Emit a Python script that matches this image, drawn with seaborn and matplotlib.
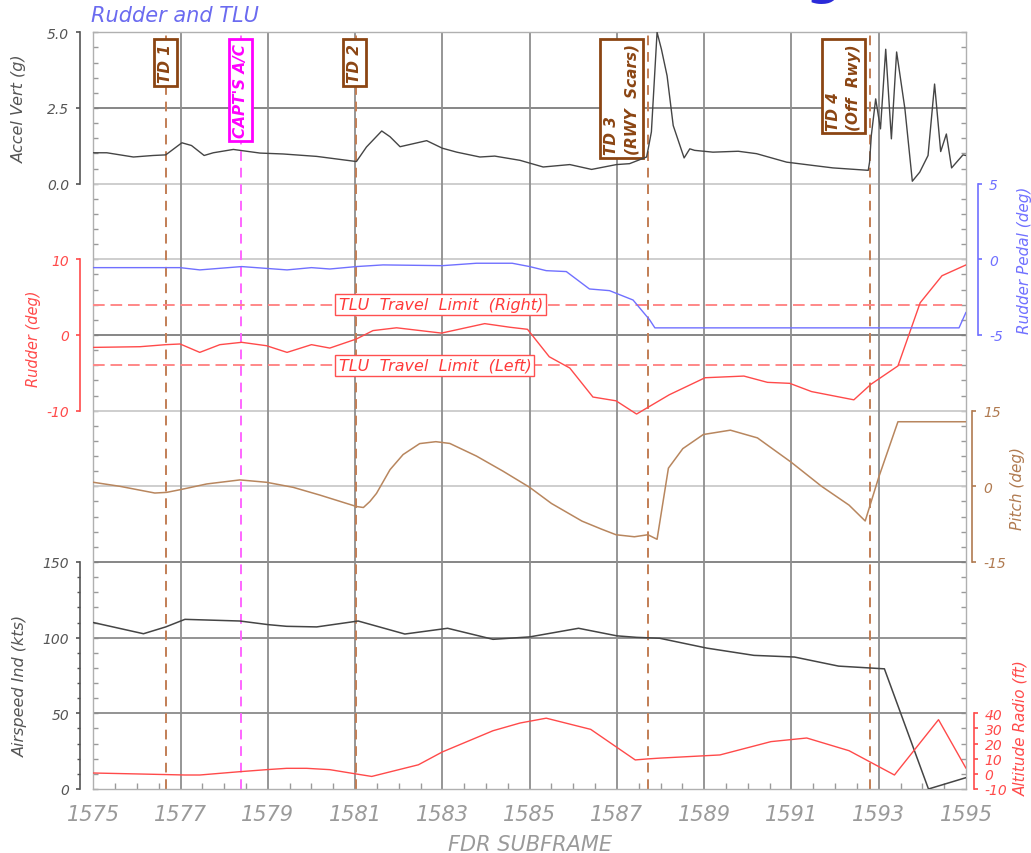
import matplotlib
matplotlib.use("Agg")
import matplotlib.pyplot as plt
from matplotlib.ticker import FormatStrFormatter, MultipleLocator, FixedLocator
import seaborn as sns

# ---------------- data ----------------
accel_x = [1575.0, 1575.31, 1575.92, 1576.37, 1576.66, 1577.03, 1577.25, 1577.54, 1577.75, 1578.21,
           1578.36, 1578.82, 1579.35, 1580.12, 1581.03, 1581.26, 1581.61, 1581.8, 1582.03, 1582.64,
           1583.0, 1583.33, 1583.86, 1584.2, 1584.78, 1585.31, 1585.92, 1586.42, 1586.99, 1587.29,
           1587.68, 1587.71, 1587.79, 1587.92, 1588.02, 1588.15, 1588.29, 1588.54, 1588.67, 1588.78,
           1589.2, 1589.78, 1590.2, 1590.89, 1591.5, 1591.95, 1592.76, 1592.79, 1592.83, 1592.93,
           1593.04, 1593.16, 1593.29, 1593.41, 1593.6, 1593.77, 1593.94, 1594.13, 1594.28, 1594.42,
           1594.55, 1594.67, 1594.93, 1595.0]
accel_g = [1.02, 1.02, 0.88, 0.93, 0.95, 1.35, 1.26, 0.93, 1.02, 1.13,
           1.10, 1.01, 0.98, 0.90, 0.73, 1.21, 1.74, 1.55, 1.22, 1.42,
           1.17, 1.04, 0.88, 0.91, 0.77, 0.55, 0.63, 0.47, 0.63, 0.66,
           0.88, 1.10, 1.71, 5.0, 4.44, 3.56, 1.92, 0.85, 1.15, 1.10,
           1.04, 1.07, 0.99, 0.71, 0.60, 0.52, 0.44, 0.71, 1.59, 2.80,
           1.81, 4.44, 1.48, 4.35, 2.47, 0.08, 0.38, 0.93, 3.29, 1.06,
           1.64, 0.52, 0.95, 0.93]

rudder_x = [1575.0, 1576.07, 1576.66, 1576.99, 1577.44, 1577.9, 1578.4, 1578.97, 1579.44, 1580.0,
            1580.42, 1581.03, 1581.41, 1581.95, 1582.98, 1583.97, 1584.55, 1584.95, 1585.45, 1585.92,
            1586.45, 1586.98, 1587.45, 1588.2, 1589.02, 1589.91, 1590.45, 1590.96, 1591.46, 1592.43,
            1592.82, 1593.44, 1593.95, 1594.45, 1595.0]
rudder_deg = [-1.64, -1.55, -1.28, -1.19, -2.3, -1.28, -0.97, -1.42, -2.3, -1.28,
              -1.73, -0.53, 0.58, 0.95, 0.25, 1.5, 1.02, 0.75, -2.88, -4.37,
              -8.2, -8.7, -10.45, -7.9, -5.65, -5.43, -6.26, -6.39, -7.48, -8.57,
              -6.52, -4.09, 4.26, 7.83, 9.26]

pedal_x = [1575.0, 1576.99, 1577.44, 1578.4, 1579.44, 1580.0, 1580.42, 1581.03, 1581.64, 1583.0,
           1583.78, 1584.6, 1585.0, 1585.38, 1585.84, 1586.37, 1586.83, 1587.37, 1587.75, 1587.87,
           1594.84, 1595.0]
pedal_deg = [-0.55, -0.55, -0.70, -0.48, -0.70, -0.55, -0.64, -0.48, -0.37, -0.42,
             -0.26, -0.26, -0.48, -0.75, -0.81, -1.96, -2.07, -2.69, -4.0, -4.53,
             -4.53, -3.5]

pitch_x = [1575.0, 1575.61, 1576.41, 1576.68, 1576.99, 1577.6, 1578.36, 1578.97, 1579.58, 1580.19,
           1581.03, 1581.19, 1581.34, 1581.49, 1581.8, 1582.1, 1582.48, 1582.85, 1583.17, 1583.78,
           1584.39, 1585.0, 1585.5, 1586.2, 1586.65, 1586.98, 1587.4, 1587.71, 1587.92, 1588.18,
           1588.51, 1588.98, 1589.6, 1590.22, 1590.99, 1591.69, 1592.32, 1592.69, 1593.0, 1593.44,
           1595.0]
pitch_deg = [0.8, 0.0, -1.33, -1.2, -0.67, 0.47, 1.27, 0.8, -0.2, -1.73,
             -4.0, -4.2, -3.0, -1.4, 3.3, 6.3, 8.47, 8.85, 8.5, 6.0,
             3.0, -0.2, -3.4, -6.9, -8.5, -9.6, -10.0, -9.6, -10.5, 3.6,
             7.47, 10.27, 11.13, 9.6, 4.8, 0.0, -3.73, -6.87, 1.8, 12.8,
             12.8]

airspeed_x = [1575.0, 1576.15, 1576.66, 1577.1, 1578.36, 1579.01, 1579.43, 1580.12, 1581.07, 1582.14,
              1583.12, 1584.16, 1585.0, 1586.12, 1587.0, 1587.45, 1587.98, 1589.06, 1590.14, 1591.07,
              1592.08, 1593.13, 1594.14, 1595.0]
airspeed_kts = [110, 102.6, 107.1, 112.1, 111, 108.6, 107.5, 107.1, 111, 102.4,
                106.2, 98.9, 100.5, 106.2, 101.2, 100.2, 99.6, 93.1, 88.3, 87.2,
                81.2, 79.4, 0.0, 7.5]

altitude_x = [1575.0, 1576.07, 1577.1, 1577.44, 1578.36, 1578.97, 1579.43, 1579.89, 1580.42, 1581.03,
              1581.38, 1582.45, 1583.0, 1584.16, 1584.78, 1585.38, 1586.4, 1586.99, 1587.42, 1587.71,
              1587.98, 1589.36, 1590.53, 1591.35, 1592.32, 1593.36, 1594.37, 1595.0]
altitude_ft = [0.57, -0.09, -0.75, -0.75, 1.45, 2.78, 3.66, 3.66, 2.78, -0.09,
               -1.7, 6.0, 14.5, 28.5, 33.6, 36.8, 29.4, 17.7, 9.2, 9.9,
               10.4, 12.5, 21.3, 23.7, 15.3, -0.75, 35.8, 3.7]

tlu_limits = [4.0, -4.0]
tlu_labels = ["TLU  Travel  Limit  (Right)", "TLU  Travel  Limit  (Left)"]

event_x = [1576.66, 1578.38, 1581.02, 1587.71, 1592.79]
event_labels = ["TD 1", "CAPT'S A/C", "TD 2", "TD 3\n(RWY  Scars)", "TD 4\n(Off  Rwy)"]

x_ticks = [1575, 1577, 1579, 1581, 1583, 1585, 1587, 1589, 1591, 1593, 1595]
x_ticklabels = ["1575", "1577", "1579", "1581", "1583", "1585", "1587", "1589", "1591", "1593", "1595"]

accel_ticks = [0.0, 2.5, 5.0]
rudder_ticks = [-10, 0, 10]
pedal_ticks = [-5, 0, 5]
pitch_ticks = [-15, 0, 15]
airspeed_ticks = [0, 50, 100, 150]
altitude_ticks = [-10, 0, 10, 20, 30, 40]

# ---------------- styling ----------------
sns.set_style("white")
plt.rcParams["font.family"] = ["DejaVu Sans"]
plt.rcParams["font.style"] = "italic"
plt.rcParams["axes.unicode_minus"] = False

W, H = 1031, 854
fig = plt.figure(figsize=(W / 100, H / 100), dpi=100)
L, R, T, B = 93.3, 966.0, 33.3, 790.0
ax = fig.add_axes([L / W, 1 - B / H, (R - L) / W, (B - T) / H])
ax.set_xlim(1575, 1595)
ax.set_ylim(0, 10)
for s in ax.spines.values():
    s.set_color("#b0b0b0")
    s.set_linewidth(1.0)

DARK = "#7d7d7d"
LIGHT = "#cacaca"
band_lines = [(9, DARK), (8, LIGHT), (7, LIGHT), (6, DARK), (5, LIGHT),
              (4, LIGHT), (3, DARK), (2, "#8a8a8a"), (1, "#8a8a8a")]
for b, c in band_lines:
    ax.axhline(b, color=c, lw=1.3, zorder=1)
for xv in x_ticks[1:-1]:
    ax.axvline(xv, color="#8e8e8e", lw=1.3, zorder=1)

RED = "#ff4a4a"
BLUE = "#7070ff"
BROWN_LINE = "#b8865e"
TD_LINE = "#c27e55"
TD_TEXT = "#8b4513"
MAG = "#ff00ff"
GREY = "#454545"


def make_twin(side, ylim, bounds, ticks, color, offset, fmt=None, minor=None):
    t = ax.twinx()
    t.set_ylim(*ylim)
    for s in t.spines.values():
        s.set_visible(False)
    sp = t.spines[side]
    sp.set_visible(True)
    sp.set_position(("outward", offset))
    sp.set_bounds(*bounds)
    sp.set_color(color)
    sp.set_linewidth(1.2)
    t.yaxis.set_ticks_position(side)
    t.yaxis.set_label_position(side)
    t.set_yticks(ticks)
    if fmt:
        t.yaxis.set_major_formatter(FormatStrFormatter(fmt))
    if minor is not None:
        t.yaxis.set_minor_locator(FixedLocator(minor))
        t.tick_params(axis="y", which="minor", direction="out", length=2.5, width=1, color=color)
    else:
        t.yaxis.set_minor_locator(FixedLocator([]))
    t.tick_params(axis="y", which="major", direction="out", length=3, width=1.2,
                  color=color, labelcolor=color, labelsize=10, pad=5)
    return t


t_acc = make_twin("left", (-20, 5), (0, 5), accel_ticks, "#555555", 9.5, fmt="%.1f")
t_rud = make_twin("left", (-60, 40), (-10, 10), rudder_ticks, RED, 9.5)
t_ped = make_twin("right", (-35, 15), (-5, 5), pedal_ticks, BLUE, 8.5)
t_pit = make_twin("right", (-60, 90), (-15, 15), pitch_ticks, "#b07a50", 4.5)
t_air = make_twin("left", (0, 500), (0, 150), airspeed_ticks, "#555555", 9.5,
                  minor=[v for v in range(10, 150, 10) if v % 50])
t_alt = make_twin("right", (-10, 490), (-10, 40), altitude_ticks, RED, 5.5)

# traces
sns.lineplot(x=accel_x, y=accel_g, ax=t_acc, color=GREY, lw=1.0, sort=False, estimator=None)
sns.lineplot(x=rudder_x, y=rudder_deg, ax=t_rud, color=RED, lw=1.0, sort=False, estimator=None)
sns.lineplot(x=pedal_x, y=pedal_deg, ax=t_ped, color=BLUE, lw=1.0, sort=False, estimator=None)
sns.lineplot(x=pitch_x, y=pitch_deg, ax=t_pit, color=BROWN_LINE, lw=1.1, sort=False, estimator=None)
sns.lineplot(x=airspeed_x, y=airspeed_kts, ax=t_air, color=GREY, lw=1.1, sort=False, estimator=None)
sns.lineplot(x=altitude_x, y=altitude_ft, ax=t_alt, color=RED, lw=1.0, sort=False, estimator=None)

# axis labels (set after lineplot, coordinates after the text)
label_specs = [
    (t_acc, "Accel Vert (g)", "#555555", (-0.076, 0.900), 11.5),
    (t_rud, "Rudder (deg)", RED, (-0.060, 0.597), 10.5),
    (t_ped, "Rudder Pedal (deg)", BLUE, (1.058, 0.700), 11),
    (t_pit, "Pitch (deg)", "#b07a50", (1.050, 0.399), 11),
    (t_air, "Airspeed Ind (kts)", "#555555", (-0.075, 0.137), 11.5),
    (t_alt, "Altitude Radio (ft)", RED, (1.054, 0.082), 11),
]
for t, lab, col, xy, fs in label_specs:
    t.set_xlabel("")
    t.set_ylabel(lab, color=col, fontsize=fs)
    t.yaxis.set_label_coords(*xy)

# TLU limits
for lim, lab in zip(tlu_limits, tlu_labels):
    t_rud.axhline(lim, color="#ff8888", lw=1.4, ls=(0, (6, 3)), zorder=1)
    t_rud.text(1580.62, lim, lab, ha="left", va="center", fontsize=11.5, color="#ff3a3a", zorder=3,
               bbox=dict(boxstyle="square,pad=0.2", fc="white", ec="#ff5050", lw=1.0))

# events
event_line_colors = [TD_LINE, "#ff66ff", TD_LINE, TD_LINE, TD_LINE]
event_text_colors = [TD_TEXT, MAG, TD_TEXT, TD_TEXT, TD_TEXT]
event_ha = ["center", "center", "center", "right", "right"]
event_dx = [0.0, 0.0, -0.03, -0.19, -0.19]
for xv, lab, lc, tc, ha, dx in zip(event_x, event_labels, event_line_colors, event_text_colors,
                                   event_ha, event_dx):
    ax.axvline(xv, color=lc, lw=1.4, ls=(0, (5, 3.5)), zorder=2)
    ax.text(xv + dx, 9.86, lab, rotation=90, ha=ha, va="top", multialignment="left",
            fontsize=11, fontweight="bold", color=tc, zorder=5, linespacing=1.45,
            bbox=dict(boxstyle="square,pad=0.25", fc="white", ec=tc, lw=2.0))

# main axis ticks (after twins, which reset them)
ax.set_xticks(x_ticks)
ax.set_xticklabels(x_ticklabels)
ax.xaxis.set_minor_locator(MultipleLocator(0.5))
ax.tick_params(axis="x", which="major", direction="in", length=0, pad=11,
               labelsize=15, labelcolor="#9a9a9a", bottom=True, top=False)
ax.tick_params(axis="x", which="minor", direction="in", length=4, width=1,
               color="#9a9a9a", bottom=True, top=False)
ax.set_yticks([])
ax.yaxis.set_minor_locator(MultipleLocator(0.2))
ax.tick_params(axis="y", which="minor", direction="in", length=3.5, width=1,
               color="#9a9a9a", left=True, right=True, labelleft=False, labelright=False)
ax.set_xlabel("FDR SUBFRAME", fontsize=15, color="#9a9a9a")
ax.xaxis.set_label_coords(0.5, -0.06)
ax.set_xlim(1575, 1595)

# titles
fig.text(L / W - 0.002, 1 - 22 / H, "Rudder and TLU", fontsize=15, color="#6b6bf0",
         va="baseline", ha="left")
fig.text(0.782, 1 + 6 / H, "g", fontsize=36, fontweight="bold", fontstyle="normal",
         color="#2b2bd9", va="baseline", ha="left")

fig.savefig("out.png", dpi=100)
